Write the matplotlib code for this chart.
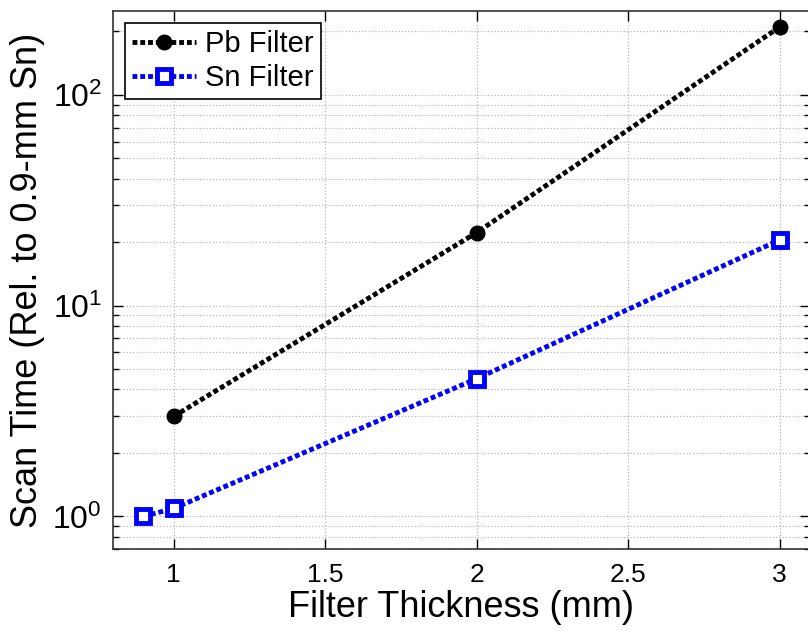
import matplotlib
matplotlib.use('Agg')
import matplotlib.pyplot as plt
from matplotlib.ticker import FixedLocator, FixedFormatter

plt.rcParams['font.family'] = ['Liberation Sans', 'DejaVu Sans']
plt.rcParams['mathtext.fontset'] = 'custom'
plt.rcParams['mathtext.rm'] = 'Liberation Sans'
plt.rcParams['mathtext.it'] = 'Liberation Sans'

pb_x = [1, 2, 3]
pb_y = [2.98, 22.2, 210]
sn_x = [0.9, 1, 2, 3]
sn_y = [1.0, 1.09, 4.5, 20.5]
x_ticks = [1, 1.5, 2, 2.5, 3]
x_labels = ['1', '1.5', '2', '2.5', '3']
y_ticks = [1, 10, 100]
y_labels = ['$10^0$', '$10^1$', '$10^2$']

fig = plt.figure(figsize=(8.08, 6.32), dpi=100)
ax = fig.add_axes([113/808, 83/632, 697/808, 538/632])

dots = (0, (1, 0.6))
ax.plot(pb_x, pb_y, color='black', linestyle=dots, linewidth=3.5,
        marker='o', markersize=10.5, label='Pb Filter')
ax.plot(sn_x, sn_y, color='blue', linestyle=dots, linewidth=3.5,
        marker='s', markersize=10, markerfacecolor='white',
        markeredgewidth=3.5, label='Sn Filter')

ax.set_yscale('log')
ax.set_xlim(0.8, 3.1)
ax.set_ylim(0.7, 250)
ax.set_xticks(x_ticks)
ax.set_xticklabels(x_labels)
ax.yaxis.set_major_locator(FixedLocator(y_ticks))
ax.yaxis.set_major_formatter(FixedFormatter(y_labels))

ax.grid(True, which='major', linestyle=':', color='#b8b8b8', linewidth=0.9)
ax.grid(True, which='minor', axis='y', linestyle=':', color='#b8b8b8', linewidth=0.9)
ax.tick_params(which='both', direction='in', top=True, right=True,
               labelsize=19, width=1)
ax.tick_params(which='major', length=7)
ax.tick_params(which='minor', length=4)
ax.tick_params(axis='x', pad=10)
ax.tick_params(axis='y', pad=8, labelsize=23)
for s in ax.spines.values():
    s.set_linewidth(1.2)
    s.set_color('#333333')

ax.set_xlabel('Filter Thickness (mm)', fontsize=26, labelpad=2)
ax.set_ylabel('Scan Time (Rel. to 0.9-mm Sn)', fontsize=26)
ax.yaxis.set_label_coords(-0.098, 0.5)

leg = ax.legend(loc='upper left', fontsize=21, fancybox=False, framealpha=1,
                edgecolor='black', handlelength=2.2, borderaxespad=0.4,
                borderpad=0.25, labelspacing=0.2, handletextpad=0.3)
leg.get_frame().set_linewidth(1.2)

fig.savefig('out.png', dpi=100)
